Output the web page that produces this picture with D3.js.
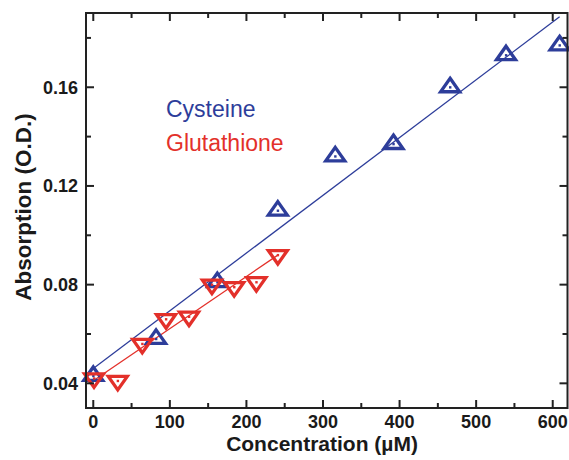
<!DOCTYPE html>
<html>
<head>
<meta charset="utf-8">
<script src="https://cdn.jsdelivr.net/npm/d3@7"></script>
<style>
  html, body { margin: 0; padding: 0; background: #fff; }
  svg { display: block; font-family: "Liberation Sans", Arial, Helvetica, sans-serif; }
</style>
</head>
<body>
<svg id="chart" width="569" height="460"></svg>
<script>
// Measured absorption versus thiol concentration
const cysteineConc = [0, 82, 162, 241, 316, 392, 466, 539, 609];
const cysteineAbs  = [0.043, 0.058, 0.081, 0.110, 0.132, 0.137, 0.160, 0.173, 0.177];

const glutathioneConc = [1, 32, 64, 95, 125, 155, 184, 213, 241];
const glutathioneAbs  = [0.042, 0.041, 0.056, 0.066, 0.067, 0.080, 0.079, 0.081, 0.092];

const xMajorTicks = [0, 100, 200, 300, 400, 500, 600];
const xMinorTicks = [50, 150, 250, 350, 450, 550];
const yMajorTicks = [0.04, 0.08, 0.12, 0.16];
const yMinorTicks = [0.06, 0.10, 0.14, 0.18];

const seriesNames = ["Cysteine", "Glutathione"];
const seriesColors = ["#2d3d9a", "#e3302a"];

const plot = { left: 86, right: 567.5, top: 13, bottom: 408 };

const svg = d3.select("#chart");

const x = d3.scaleLinear().domain([-9.5, 619.3]).range([plot.left, plot.right]);
const y = d3.scaleLinear().domain([0.030, 0.1901]).range([plot.bottom, plot.top]);

// least-squares straight line through a series
function linearFit(xs, ys) {
  const mx = d3.mean(xs), my = d3.mean(ys);
  let sxy = 0, sxx = 0;
  xs.forEach((v, i) => { sxy += (v - mx) * (ys[i] - my); sxx += (v - mx) * (v - mx); });
  const slope = sxy / sxx;
  return { slope, intercept: my - slope * mx };
}

const series = [
  { name: seriesNames[0], color: seriesColors[0], xs: cysteineConc, ys: cysteineAbs, dir: "up" },
  { name: seriesNames[1], color: seriesColors[1], xs: glutathioneConc, ys: glutathioneAbs, dir: "down" }
];

// fit lines
series.forEach(s => {
  const f = linearFit(s.xs, s.ys);
  const x0 = 0, x1 = d3.max(s.xs);
  svg.append("line")
    .attr("x1", x(x0)).attr("y1", y(f.intercept + f.slope * x0))
    .attr("x2", x(x1)).attr("y2", y(f.intercept + f.slope * x1))
    .attr("stroke", s.color).attr("stroke-width", 1.3);
});

// open triangle markers with a centre dot
const triW = 19, triH = 13.5;
function triPath(dir) {
  const s = dir === "up" ? 1 : -1;
  return `M0,${-s * 2 * triH / 3} L${triW / 2},${s * triH / 3} L${-triW / 2},${s * triH / 3} Z`;
}

series.forEach(s => {
  const g = svg.append("g");
  const pts = g.selectAll("g.pt").data(s.xs.map((v, i) => [v, s.ys[i]]))
    .join("g").attr("class", "pt")
    .attr("transform", d => `translate(${x(d[0])},${y(d[1])})`);
  pts.append("path")
    .attr("d", triPath(s.dir))
    .attr("fill", "none").attr("stroke", s.color)
    .attr("stroke-width", 3.3).attr("stroke-linejoin", "miter");
  pts.append("rect")
    .attr("x", -1.1).attr("y", -1.1).attr("width", 2.4).attr("height", 2.4)
    .attr("fill", s.color);
});

// frame and inward ticks
const axisColor = "#222";
const majorLen = 8, minorLen = 5;
const frame = svg.append("g");

frame.append("rect")
  .attr("x", plot.left).attr("y", plot.top)
  .attr("width", plot.right - plot.left).attr("height", plot.bottom - plot.top)
  .attr("fill", "none").attr("stroke", axisColor).attr("stroke-width", 2);

function xTicks(vals, len) {
  vals.forEach(v => {
    frame.append("line").attr("x1", x(v)).attr("x2", x(v))
      .attr("y1", plot.bottom).attr("y2", plot.bottom - len)
      .attr("stroke", axisColor).attr("stroke-width", 2);
    frame.append("line").attr("x1", x(v)).attr("x2", x(v))
      .attr("y1", plot.top).attr("y2", plot.top + len)
      .attr("stroke", axisColor).attr("stroke-width", 2);
  });
}
function yTicks(vals, len) {
  vals.forEach(v => {
    frame.append("line").attr("y1", y(v)).attr("y2", y(v))
      .attr("x1", plot.left).attr("x2", plot.left + len)
      .attr("stroke", axisColor).attr("stroke-width", 2);
    frame.append("line").attr("y1", y(v)).attr("y2", y(v))
      .attr("x1", plot.right).attr("x2", plot.right - len)
      .attr("stroke", axisColor).attr("stroke-width", 2);
  });
}
xTicks(xMajorTicks, majorLen);
xTicks(xMinorTicks, minorLen);
yTicks(yMajorTicks, majorLen);
yTicks(yMinorTicks, minorLen);

// tick labels
const labelColor = "#1a1a1a";
svg.append("g").selectAll("text").data(xMajorTicks).join("text")
  .attr("x", d => x(d)).attr("y", 427.5)
  .attr("text-anchor", "middle")
  .attr("font-size", 18).attr("font-weight", "bold").attr("fill", labelColor)
  .text(d => d3.format("d")(d));

svg.append("g").selectAll("text").data(yMajorTicks).join("text")
  .attr("x", 78).attr("y", d => y(d)).attr("dy", "0.35em")
  .attr("text-anchor", "end")
  .attr("font-size", 18).attr("font-weight", "bold").attr("fill", labelColor)
  .text(d => d3.format(".2f")(d));

// axis titles
svg.append("text")
  .attr("x", 322).attr("y", 451)
  .attr("text-anchor", "middle")
  .attr("font-size", 21).attr("font-weight", "bold").attr("fill", labelColor)
  .text("Concentration (\u00b5M)");

svg.append("text")
  .attr("transform", "translate(31,207) rotate(-90)")
  .attr("text-anchor", "middle")
  .attr("font-size", 22.5).attr("font-weight", "bold").attr("fill", labelColor)
  .text("Absorption (O.D.)");

// series legend as coloured text
svg.append("g").selectAll("text").data(series).join("text")
  .attr("x", 166).attr("y", (d, i) => 116.5 + i * 34.5)
  .attr("font-size", 23).attr("fill", d => d.color)
  .text(d => d.name);
</script>
</body>
</html>
